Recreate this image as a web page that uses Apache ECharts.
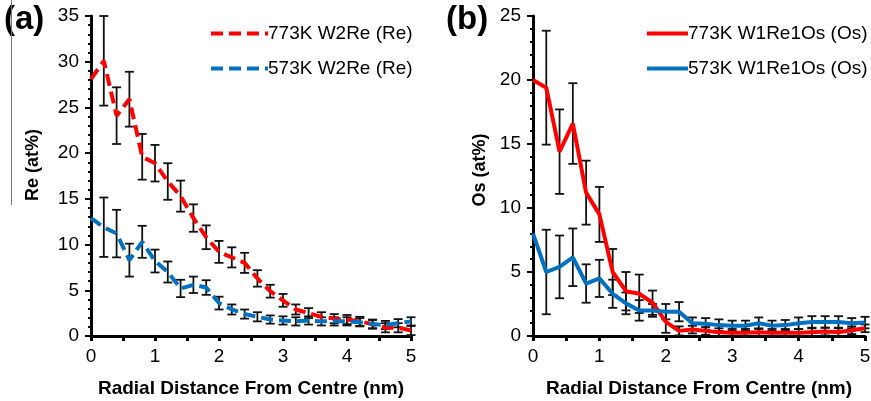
<!DOCTYPE html>
<html>
<head>
<meta charset="utf-8">
<script src="https://cdn.jsdelivr.net/npm/echarts@6/dist/echarts.min.js"></script>
<style>
html,body{margin:0;padding:0;background:#fff;}
#chart{width:871px;height:401px;}
</style>
</head>
<body>
<div id="chart"></div>
<script>
// Radial distance (nm)
const xValues = [0,0.2,0.4,0.6,0.8,1.0,1.2,1.4,1.6,1.8,2.0,2.2,2.4,2.6,2.8,3.0,3.2,3.4,3.6,3.8,4.0,4.2,4.4,4.6,4.8,5.0];

// Panel (a): Re (at%)
const re773 = [28.1,30.1,24.1,25.9,19.6,18.9,16.9,15.3,12.9,10.8,9.2,8.6,8.0,6.3,4.9,3.9,2.9,2.5,2.1,1.9,1.8,1.6,1.3,0.9,0.9,0.6];
const re773Err = [0,4.9,3.1,3.0,2.5,2.0,2.0,1.7,1.5,1.3,1.2,1.1,1.1,0.9,0.7,0.7,0.55,0.55,0.5,0.5,0.5,0.5,0.5,0.5,0.5,0.5];
const re573 = [12.9,11.9,11.2,8.3,10.3,8.2,7.0,5.2,5.6,5.3,3.6,2.9,2.4,2.1,1.8,1.7,1.6,1.7,1.6,1.6,1.6,1.5,1.3,1.2,1.4,1.6];
const re573Err = [0,3.25,2.6,1.8,1.75,1.25,1.15,0.95,0.9,0.8,0.7,0.55,0.5,0.5,0.45,0.45,0.45,0.45,0.45,0.45,0.45,0.45,0.45,0.45,0.45,0.45];

// Panel (b): Os (at%)
const os773 = [20.0,19.4,14.4,16.6,11.2,9.5,5.0,3.5,3.3,2.6,1.1,0.4,0.5,0.4,0.3,0.25,0.25,0.3,0.25,0.25,0.25,0.3,0.35,0.3,0.45,0.6];
const os773Err = [0,4.45,3.3,3.15,2.5,2.15,1.8,1.5,1.5,0.95,0.85,0.35,0.3,0.3,0.3,0.3,0.3,0.3,0.3,0.3,0.3,0.3,0.3,0.3,0.3,0.3];
const os573 = [8.0,5.0,5.4,6.15,4.1,4.5,3.3,2.55,2.0,2.0,1.9,1.9,1.0,0.95,0.85,0.8,0.8,1.0,0.8,0.85,1.0,1.1,1.1,1.1,1.0,1.05];
const os573Err = [0,3.3,2.45,2.25,1.5,1.45,1.1,0.85,0.8,0.5,0.6,0.75,0.45,0.45,0.45,0.4,0.4,0.45,0.4,0.4,0.45,0.45,0.45,0.45,0.4,0.45];

// Axis ticks
const xTicks = [0,1,2,3,4,5];
const reTicks = [0,5,10,15,20,25,30,35];
const osTicks = [0,5,10,15,20,25];

const names = {
  re773: '773K W2Re (Re)', re573: '573K W2Re (Re)',
  os773: '773K W1Re1Os (Os)', os573: '573K W1Re1Os (Os)'
};
const RED = '#FF0000', BLUE = '#0070C0';
const FONT = 'Liberation Sans, Arial, sans-serif';

function pairs(ys){ return xValues.map((x,i)=>[x, ys[i]]); }
function errData(ys, es){ return xValues.map((x,i)=>[x, ys[i]-es[i], ys[i]+es[i], es[i]]); }

function errSeries(idx, ys, es){
  return {
    type:'custom', xAxisIndex:idx, yAxisIndex:idx, z:1, silent:true,
    data: errData(ys, es),
    renderItem: function(params, api){
      if (api.value(3) <= 0) return null;
      const lo = api.coord([api.value(0), api.value(1)]);
      const hi = api.coord([api.value(0), api.value(2)]);
      const w = 4.5;
      const st = {stroke:'#111', lineWidth:1.8};
      return {type:'group', children:[
        {type:'line', shape:{x1:lo[0],y1:lo[1],x2:hi[0],y2:hi[1]}, style:st},
        {type:'line', shape:{x1:lo[0]-w,y1:lo[1],x2:lo[0]+w,y2:lo[1]}, style:st},
        {type:'line', shape:{x1:hi[0]-w,y1:hi[1],x2:hi[0]+w,y2:hi[1]}, style:st}
      ]};
    }
  };
}

function lineSeries(idx, name, ys, color, dashed){
  return {
    type:'line', name:name, xAxisIndex:idx, yAxisIndex:idx, z:3,
    data: pairs(ys), showSymbol:false, symbol:'none',
    lineStyle:{color:color, width:4, type: dashed ? [12,6] : 'solid'},
    itemStyle:{color:color}
  };
}

function xAxis(idx){
  return {
    type:'value', gridIndex:idx, min:0, max:5, interval:0.5,
    name:'Radial Distance From Centre (nm)', nameLocation:'middle', nameGap:43,
    nameTextStyle:{fontFamily:FONT, fontSize:19, fontWeight:'bold', color:'#000'},
    axisLine:{show:true, onZero:false, lineStyle:{color:'#000', width:3}},
    axisTick:{show:true, length:5, inside:false, lineStyle:{color:'#000', width:3}},
    axisLabel:{fontFamily:FONT, fontSize:19, color:'#000', margin:11,
      formatter: v => xTicks.indexOf(v) >= 0 ? String(v) : ''},
    splitLine:{show:false}
  };
}
function yAxis(idx, max, ticks){
  return {
    type:'value', gridIndex:idx, min:0, max:max, interval:5,
    axisLine:{show:true, lineStyle:{color:'#000', width:3}},
    axisTick:{show:true, length:6, lineStyle:{color:'#000', width:2}},
    minorTick:{show:true, splitNumber:5, length:3, lineStyle:{color:'#000', width:2}},
    axisLabel:{fontFamily:FONT, fontSize:19, color:'#000', margin:12,
      formatter: v => ticks.indexOf(v) >= 0 ? String(v) : ''},
    splitLine:{show:false}, minorSplitLine:{show:false}
  };
}

const legendCommon = {
  orient:'vertical', itemGap:16, itemHeight:12, selectedMode:false,
  itemStyle:{opacity:0},
  lineStyle:{width:4},
  textStyle:{fontFamily:FONT, fontSize:19, color:'#000', padding:[0,0,0,-5]}
};

const chart = echarts.init(document.getElementById('chart'), null, {renderer:'canvas'});
chart.setOption({
  backgroundColor:'#fff',
  animation:false,
  grid:[
    {left:91, top:16, width:320, height:320, containLabel:false, outerBoundsMode:'none'},
    {left:533, top:16, width:332, height:320, containLabel:false, outerBoundsMode:'none'}
  ],
  xAxis:[xAxis(0), xAxis(1)],
  yAxis:[yAxis(0,35,reTicks), yAxis(1,25,osTicks)],
  legend:[
    Object.assign({left:204, top:19, itemWidth:57, data:[names.re773, names.re573]}, legendCommon),
    Object.assign({left:640, top:19, itemWidth:41, data:[names.os773, names.os573]}, legendCommon)
  ],
  graphic:[
    {type:'text', left:4, top:3, style:{text:'(a)', fontFamily:FONT, fontSize:33, fontWeight:'bold', fill:'#000'}},
    {type:'text', left:446, top:3, style:{text:'(b)', fontFamily:FONT, fontSize:33, fontWeight:'bold', fill:'#000'}},
    {type:'text', x:33, y:165, rotation:Math.PI/2,
     style:{text:'Re (at%)', fontFamily:FONT, fontSize:18, fontWeight:'bold', fill:'#000', align:'center', verticalAlign:'middle'}},
    {type:'text', x:480, y:170, rotation:Math.PI/2,
     style:{text:'Os (at%)', fontFamily:FONT, fontSize:18, fontWeight:'bold', fill:'#000', align:'center', verticalAlign:'middle'}},
    {type:'line', shape:{x1:11.5, y1:0, x2:11.5, y2:205}, style:{stroke:'#777', lineWidth:1}}
  ],
  series:[
    errSeries(0, re773, re773Err),
    errSeries(0, re573, re573Err),
    lineSeries(0, names.re773, re773, RED, true),
    lineSeries(0, names.re573, re573, BLUE, true),
    errSeries(1, os773, os773Err),
    errSeries(1, os573, os573Err),
    lineSeries(1, names.os773, os773, RED, false),
    lineSeries(1, names.os573, os573, BLUE, false)
  ]
});
</script>
</body>
</html>
